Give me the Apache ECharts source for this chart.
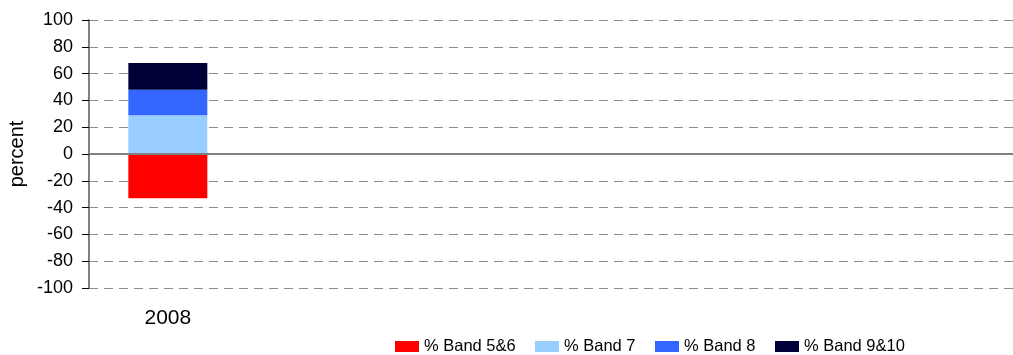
<!DOCTYPE html>
<html>
<head>
<meta charset="utf-8">
<script src="https://cdn.jsdelivr.net/npm/echarts@6/dist/echarts.min.js"></script>
<style>
  html, body { margin: 0; padding: 0; background: #fff; }
  #myChart { width: 1013px; height: 355px; }
</style>
</head>
<body>
<div id="myChart"></div>
<script>
    // 数据
    let categories = ['2008', '', '', '', '', ''];
    let band56 = [-33];
    let band7 = [29];
    let band8 = [19];
    let band910 = [20];
    let seriesNames = ['% Band 5&6', '% Band 7', '% Band 8', '% Band 9&10'];
    let seriesColors = ['#ff0000', '#99ccff', '#3366ff', '#000038'];
    let seriesData = [band56, band7, band8, band910];

    let fontColor1 = '#000000';
    let gridColor = '#8c8c8c';
    let fontFamily = 'Liberation Sans, Arial, sans-serif';

    let myChart = echarts.init(document.getElementById('myChart'));

    // 每个图例单独放，模拟固定宽度的槽位
    let legendLeft = [395, 535, 655, 775];
    let legends = seriesNames.map((name, i) => ({
        data: [name],
        left: legendLeft[i],
        top: 338,
        padding: 0,
        itemWidth: 24,
        itemHeight: 11,
        icon: 'rect',
        textStyle: { color: fontColor1, fontSize: 16.5, fontFamily: fontFamily }
    }));

    let series = seriesNames.map((name, i) => ({
        name: name,
        type: 'bar',
        stack: 'total',
        barWidth: 79,
        itemStyle: { color: seriesColors[i] },
        data: seriesData[i]
    }));
    // 0 线
    series[0].markLine = {
        silent: true,
        symbol: 'none',
        label: { show: false },
        lineStyle: { color: '#808080', width: 2, type: 'solid' },
        data: [{ yAxis: 0 }]
    };

    myChart.setOption({
        animation: false,
        textStyle: { fontFamily: fontFamily },
        grid: {
            left: 89,
            top: 20,
            bottom: 67,
            width: 946,
            containLabel: false,
            outerBoundsMode: 'none'
        },
        legend: legends,
        xAxis: {
            type: 'category',
            data: categories,
            axisLine: { show: false, onZero: false },
            axisTick: { show: false },
            axisLabel: {
                color: fontColor1,
                fontSize: 21,
                margin: 20,
                interval: 0
            },
            splitLine: { show: false }
        },
        yAxis: {
            type: 'value',
            min: -100,
            max: 100,
            interval: 20,
            name: 'percent',
            nameLocation: 'middle',
            nameRotate: 90,
            nameGap: 62,
            nameMoveOverlap: false,
            nameTextStyle: { color: fontColor1, fontSize: 20 },
            axisLine: { show: true, lineStyle: { color: '#808080', width: 2 } },
            axisTick: { show: true, length: 7, lineStyle: { color: '#000', width: 1 } },
            axisLabel: { color: fontColor1, fontSize: 18, margin: 16 },
            splitLine: {
                show: true,
                lineStyle: { color: gridColor, type: [9, 6], width: 1 }
            }
        },
        series: series
    });
</script>
</body>
</html>
